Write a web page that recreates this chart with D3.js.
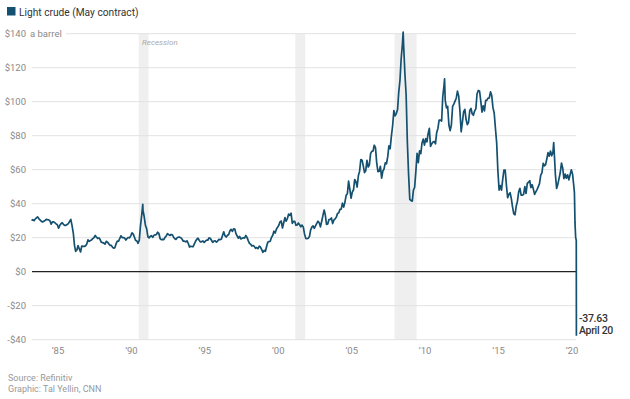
<!DOCTYPE html>
<html><head><meta charset="utf-8">
<script src="https://cdn.jsdelivr.net/npm/d3@7"></script>
<style>
html,body{margin:0;padding:0;background:#fff;}
svg{display:block;font-family:Roboto,"Noto Sans",sans-serif;}
</style></head>
<body>
<svg id="chart" width="630" height="399"></svg>
<script>
// Monthly prices (mid-month), starting March 1983
const prices1980s = [
  30.0,30.6,30.0,31.0,31.7,32.2,31.1,30.4,29.6,29.3,
  29.7,30.1,30.8,30.6,30.5,29.9,28.0,29.3,29.3,28.8,28.1,27.6,
  25.6,27.3,28.2,28.8,27.9,27.2,27.3,27.8,28.3,29.5,30.8,27.2,
  22.9,15.5,12.0,12.8,15.4,13.4,11.6,15.1,14.9,14.9,15.2,16.1,
  18.7,17.8,18.3,18.7,19.4,20.1,21.3,20.3,19.5,19.9,18.9,17.3,
  17.1,16.8,16.2,17.9,17.4,16.5,15.5,15.5,14.5,13.8,14.1,16.4,
  18.0,17.9,19.5,21.1,20.1,20.1,19.8,18.6,19.6,20.1,19.9,21.1
];
const prices1990s = [
  22.9,22.1,20.4,18.4,18.2,16.7,18.5,27.3,33.5,36.0,32.3,27.3,
  25.2,20.5,19.9,20.8,21.2,20.2,21.4,21.7,21.9,23.2,22.5,19.5,
  18.8,19.0,18.9,20.2,21.0,22.4,21.8,21.3,21.9,21.7,20.3,19.4,
  19.0,20.1,20.3,20.3,20.0,19.1,17.9,18.0,17.5,18.2,16.6,14.5,
  15.0,14.8,14.7,16.4,17.9,19.1,19.7,18.4,17.5,17.7,18.1,17.2,
  18.0,18.6,18.5,19.9,19.7,18.5,17.3,18.0,18.2,17.4,18.0,19.0,
  18.9,19.1,21.3,23.5,21.2,20.4,21.3,21.9,24.0,24.9,23.7,25.2,
  25.1,22.2,21.0,19.7,20.8,19.3,19.7,20.0,19.8,21.3,20.2,18.3,
  16.7,16.1,15.1,15.4,14.9,13.7,14.2,13.5,15.0,14.5,13.0,11.4,
  12.5,12.0,14.7,17.3,17.7,17.9,20.1,21.3,23.8,22.7,25.0,26.1
];
const prices2000s = [
  27.3,29.4,29.8,25.7,28.8,31.8,29.7,31.3,33.9,33.1,34.4,28.4,
  29.6,29.6,27.3,27.5,28.6,27.6,26.4,27.4,26.2,22.2,19.6,19.4,
  19.7,20.7,24.5,26.2,27.0,25.5,27.0,28.4,29.7,28.8,26.4,29.5,
  33.0,36.3,33.5,27.8,28.1,30.7,30.8,31.6,28.3,30.3,31.1,32.1,
  34.3,34.7,36.7,36.8,40.3,38.0,40.8,44.9,45.9,53.3,48.5,43.2,
  46.8,48.2,54.2,53.0,49.8,56.4,59.0,66.0,65.6,62.3,58.3,59.4,
  65.5,61.6,62.7,69.4,70.8,71.0,74.4,73.0,63.8,58.9,59.1,62.0,
  55.0,59.3,60.4,64.0,63.5,67.5,74.1,72.4,79.9,85.8,94.8,91.7,
  93.0,95.4,105.5,112.6,125.4,133.9,133.4,116.7,104.1,76.6,57.3,42.5,
  41.9,41.5,47.9,49.7,59.0,69.6,64.2,71.1,69.4,75.7,78.0,74.5
];
const prices2010s = [
  78.3,76.4,81.2,84.3,73.7,75.3,76.3,76.6,75.2,81.9,84.3,89.2,
  89.2,88.6,102.9,109.5,100.9,96.3,97.3,86.3,83.0,86.3,97.2,98.6,
  100.3,102.2,106.2,103.3,94.7,82.3,87.9,94.1,95.5,89.5,86.5,87.9,
  94.8,96.0,92.9,92.0,94.5,95.8,104.7,106.6,106.3,100.5,93.9,97.6,
  94.6,100.8,100.8,102.1,102.2,105.8,103.6,96.5,93.2,84.4,75.8,59.3,
  48.0,50.6,48.0,54.5,59.8,59.8,50.9,43.5,45.5,46.5,43.0,38.0,
  34.0,33.5,38.5,41.5,47.0,49.0,45.0,45.0,45.5,50.0,46.0,52.0,
  52.6,53.5,49.5,51.2,48.6,45.5,47.0,48.3,50.0,51.8,56.8,58.2,
  63.8,62.3,62.8,66.3,70.0,68.0,71.0,68.2,70.3,71.0,57.0,49.0,
  51.5,55.0,58.2,63.9,61.0,54.8,57.4,55.0,57.0,54.0,57.0,59.9
];
const prices2020 = [57.5,50.5];

// Short-lived peaks and the final weeks (daily closes)
const spikeDates  = ["1990-10-10","2008-07-03","2011-04-29","2018-10-03"];
const spikePrices = [39.6, 141.0, 113.5, 76.0];
const finalDates  = ["2020-03-02","2020-03-16","2020-04-01","2020-04-17","2020-04-20"];
const finalPrices = [46.5, 28.7, 20.3, 18.3, -37.63];

const yTicks = [140,120,100,80,60,40,20,0,-20,-40];
const yTickLabels = ["$140","$120","$100","$80","$60","$40","$20","$0","-$20","-$40"];
const xTickYears = [1985,1990,1995,2000,2005,2010,2015,2020];
const xTickLabels = ["\u201985","\u201990","\u201995","\u201900","\u201905","\u201910","\u201915","\u201920"];
const recessionStarts = ["1990-07-01","2001-03-01","2007-12-01"];
const recessionEnds   = ["1991-03-01","2001-11-01","2009-06-01"];

const parse = d3.timeParse("%Y-%m-%d");
const monthly = [].concat(prices1980s, prices1990s, prices2000s, prices2010s, prices2020);
let data = monthly.map((v,i) => ({date: new Date(1983, 2 + i, 15), value: v}));
spikeDates.forEach((d,i) => data.push({date: parse(d), value: spikePrices[i]}));
finalDates.forEach((d,i) => data.push({date: parse(d), value: finalPrices[i]}));
data.sort((a,b) => a.date - b.date);

const svg = d3.select("#chart");
const color = "#14506f";
const x = d3.scaleTime().domain([new Date(1983,2,1), new Date(2020,3,20)]).range([31, 576.4]);
const y = d3.scaleLinear().domain([-40,140]).range([339.7, 33.7]);
const gridLeft = 32, gridRight = 576;

// recession bands
svg.append("g").selectAll("rect").data(recessionStarts).join("rect")
  .attr("x", (d) => x(parse(d)))
  .attr("width", (d,i) => x(parse(recessionEnds[i])) - x(parse(d)))
  .attr("y", y(140)).attr("height", y(-40) - y(140))
  .attr("fill", "#efefef");
svg.append("text").attr("x", 142).attr("y", 45).text("Recession")
  .attr("font-size", 8).attr("font-style", "italic").attr("fill", "#aaa");

// gridlines
svg.append("g").selectAll("line").data(yTicks.filter(t => t !== 0)).join("line")
  .attr("x1", d => d === 140 ? 66 : gridLeft).attr("x2", gridRight)
  .attr("y1", d => y(d)).attr("y2", d => y(d))
  .attr("stroke", "#e2e2e2").attr("stroke-width", 1);

// y labels
svg.append("g").selectAll("text").data(yTicks).join("text")
  .attr("x", 26).attr("y", d => y(d)).attr("dy", "0.35em")
  .attr("text-anchor", "end").attr("font-size", 9.5).attr("fill", "#8a8a8a")
  .text((d,i) => yTickLabels[i]);
svg.append("text").attr("x", 30).attr("y", y(140)).attr("dy","0.35em")
  .attr("font-size", 9.5).attr("fill", "#8a8a8a").text("a barrel");

// x labels
svg.append("g").selectAll("text").data(xTickYears).join("text")
  .attr("x", d => x(new Date(d,0,1))).attr("y", 354)
  .attr("text-anchor", "middle").attr("font-size", 9.5).attr("fill", "#8a8a8a")
  .text((d,i) => xTickLabels[i]);

// zero line
svg.append("line").attr("x1", gridLeft).attr("x2", gridRight)
  .attr("y1", y(0)).attr("y2", y(0)).attr("stroke", "#222").attr("stroke-width", 1.2);

// price line
const line = d3.line().x(d => x(d.date)).y(d => y(d.value)).curve(d3.curveLinear);
svg.append("path").datum(data).attr("d", line)
  .attr("fill", "none").attr("stroke", color).attr("stroke-width", 1.7)
  .attr("stroke-linejoin", "round");

// legend
svg.append("rect").attr("x", 7).attr("y", 7).attr("width", 8.5).attr("height", 8.5).attr("fill", color);
svg.append("text").attr("x", 19).attr("y", 15.5).attr("font-size", 10.2).attr("fill", "#333")
  .text("Light crude (May contract)");

// annotation
const last = data[data.length-1];
svg.append("text").attr("x", 579).attr("y", 322).attr("font-size", 10.5).attr("fill", "#333")
  .attr("font-weight", 500).attr("letter-spacing", -0.3).text(d3.format(".2f")(last.value).replace("\u2212","-"));
svg.append("text").attr("x", 579).attr("y", 334).attr("font-size", 10.5).attr("fill", "#333")
  .attr("font-weight", 500).attr("letter-spacing", -0.3).text("April 20");

// source
svg.append("text").attr("x", 8).attr("y", 381).attr("font-size", 9).attr("fill", "#999").text("Source: Refinitiv");
svg.append("text").attr("x", 8).attr("y", 392).attr("font-size", 9).attr("fill", "#999").text("Graphic: Tal Yellin, CNN");
</script>
</body></html>
